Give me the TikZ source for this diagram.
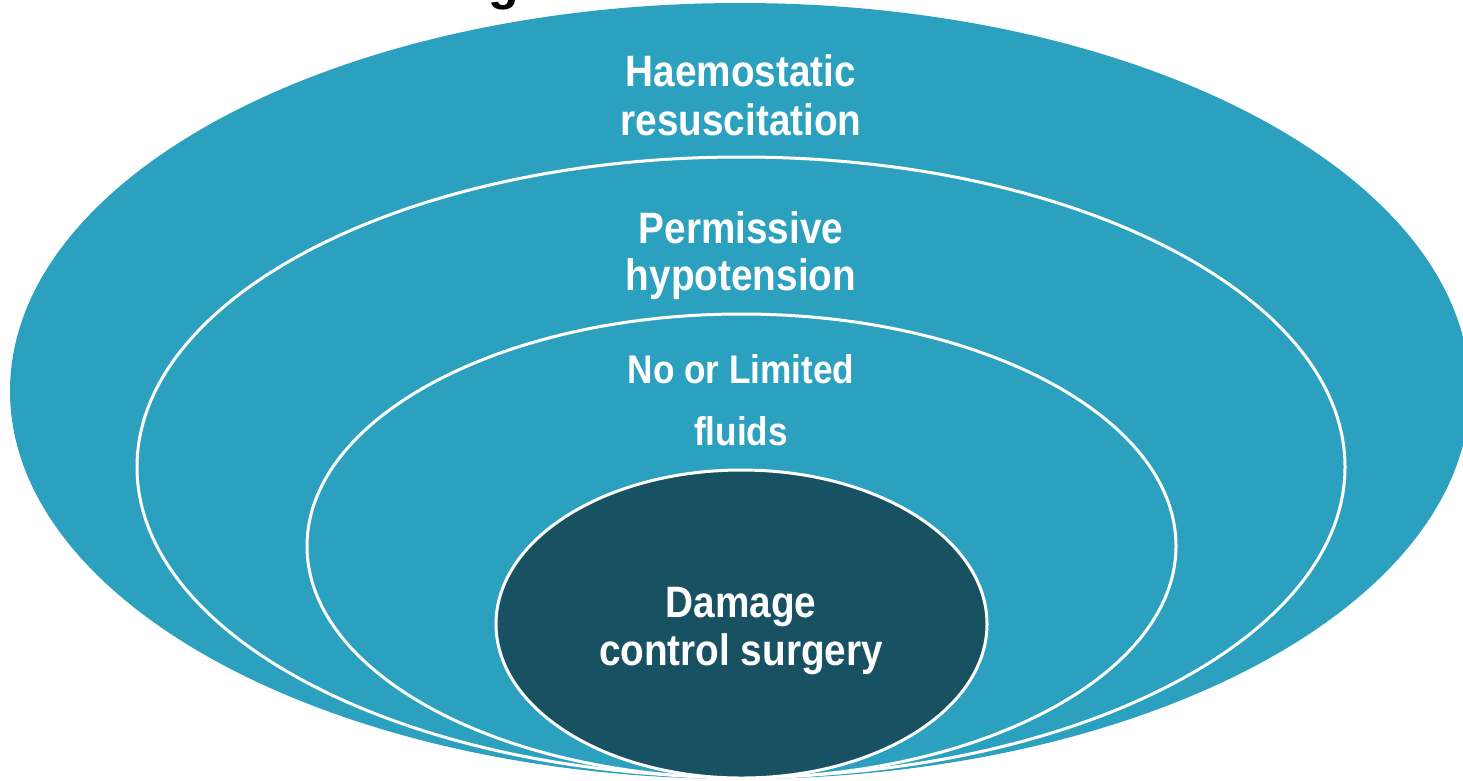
\documentclass[tikz,border=0pt]{standalone}
\usepackage{fontspec}
\newfontfamily\labelfont[FakeStretch=0.88]{Liberation Sans}
\newfontfamily\titlefont{Liberation Sans}
\definecolor{tealfill}{HTML}{2CA1BF}
\definecolor{darkteal}{HTML}{175162}
\begin{document}
\begin{tikzpicture}[x=1pt,y=-1pt,
  ring/.style={fill=tealfill,draw=white,line width=3pt},
  core/.style={fill=darkteal,draw=white,line width=3pt},
  lbl/.style={text=white,inner sep=0pt,anchor=base,font=\labelfont\bfseries\fontsize{44}{48}\selectfont},
  lblsmall/.style={lbl,font=\labelfont\bfseries\fontsize{40}{44}\selectfont}]
\useasboundingbox (0,0) rectangle (1463,780);
% cut-off title above the rings
\node[text=black,inner sep=0pt,anchor=base,font=\titlefont\bfseries\fontsize{50}{54}\selectfont] (title) at (504,-1) {g};
% nested rings, outermost first
\fill[tealfill] (740,391) ellipse [x radius=730,y radius=388];
\draw[ring] (741,467) ellipse [x radius=604,y radius=310];
\draw[ring] (741.5,546) ellipse [x radius=434.5,y radius=232];
\draw[core] (741.5,624) ellipse [x radius=245.5,y radius=154];
% labels
\node[lbl] (haemo1) at (741,86) {Haemostatic};
\node[lbl] (haemo2) at (741,135) {resuscitation};
\node[lbl] (perm1) at (741,243) {Permissive};
\node[lbl] (perm2) at (741,290) {hypotension};
\node[lblsmall] (fluid1) at (741,383) {No or Limited};
\node[lblsmall] (fluid2) at (741,445) {fluids};
\node[lbl] (dcs1) at (741,617) {Damage};
\node[lbl] (dcs2) at (741,665) {control surgery};
\end{tikzpicture}
\end{document}
